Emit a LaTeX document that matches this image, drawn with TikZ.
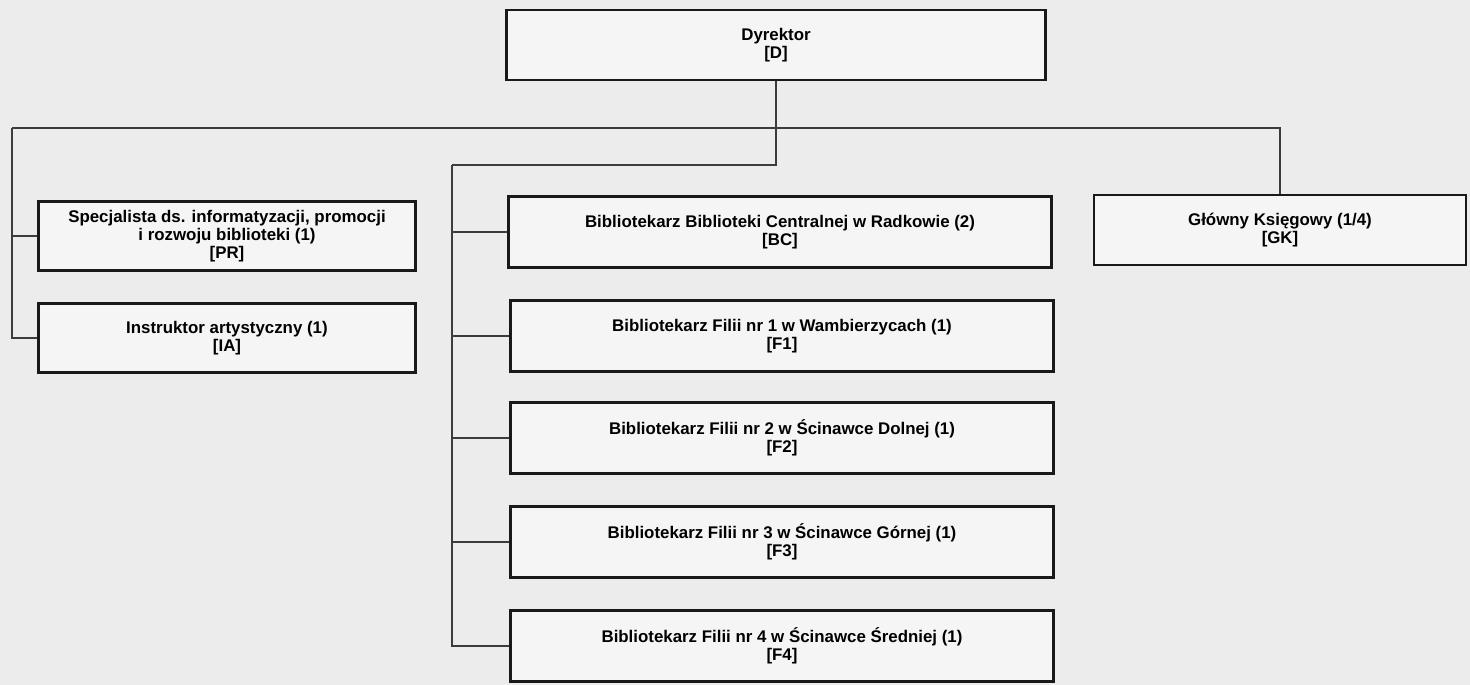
\documentclass[tikz,border=0pt]{standalone}
\usepackage{fontspec}
\setmainfont{Liberation Sans}
\usetikzlibrary{positioning}
\definecolor{scangray}{RGB}{236,236,236}
\definecolor{inkline}{RGB}{25,25,25}
\tikzset{
  post/.style={rectangle, draw=inkline, line width=1.6pt, fill=scangray!50!white,
               align=center, inner sep=2pt,
               font=\fontsize{9.6}{10.2}\selectfont\bfseries},
  widepost/.style={post, minimum width=10.86cm, minimum height=1.42cm},
  sidepost/.style={post, minimum width=7.54cm, minimum height=1.38cm},
  link/.style={draw=inkline!85, line width=0.8pt}
}

\begin{document}
\begin{tikzpicture}[x=0.02cm, y=-0.02cm]
\fill[scangray] (0,0) rectangle (1470,685);
\useasboundingbox (0,0) rectangle (1470,685);
% top
\node[post, minimum width=10.78cm, minimum height=1.4cm] (D) at (776,45) {Dyrektor\\{[D]}};
% left column
\node[sidepost] (PR) at (227,236) {Specjalista ds. informatyzacji, promocji\\i rozwoju biblioteki (1)\\{[PR]}};
\node[sidepost] (IA) at (227,338) {Instruktor artystyczny (1)\\{[IA]}};
% middle column
\node[widepost] (BC) at (780,232) {Bibliotekarz Biblioteki Centralnej w Radkowie (2)\\{[BC]}};
\foreach \nr/\place/\y in {
  1/Wambierzycach/336,
  2/Ścinawce Dolnej/438,
  3/Ścinawce Górnej/542,
  4/Ścinawce Średniej/646}{
    \node[widepost] (F\nr) at (782,\y) {Bibliotekarz Filii nr \nr\ w \place\ (1)\\{[F\nr]}};
}
% right column
\node[post, minimum width=7.44cm, minimum height=1.4cm] (GK) at (1280,230) {Główny Księgowy (1/4)\\{[GK]}};
% connectors
\coordinate (busL) at (12,128);
\coordinate (busR) at (GK.north |- busL);
\coordinate (busM) at (452,165);
\draw[link] (D.south) |- (busM);
\draw[link] (busL) -- (busR) -- (GK.north);
\foreach \id in {PR,IA}
  \draw[link] (busL) |- (\id.west);
\foreach \id in {BC,F1,F2,F3,F4}
  \draw[link] (busM) |- (\id.west);
\end{tikzpicture}
\end{document}
